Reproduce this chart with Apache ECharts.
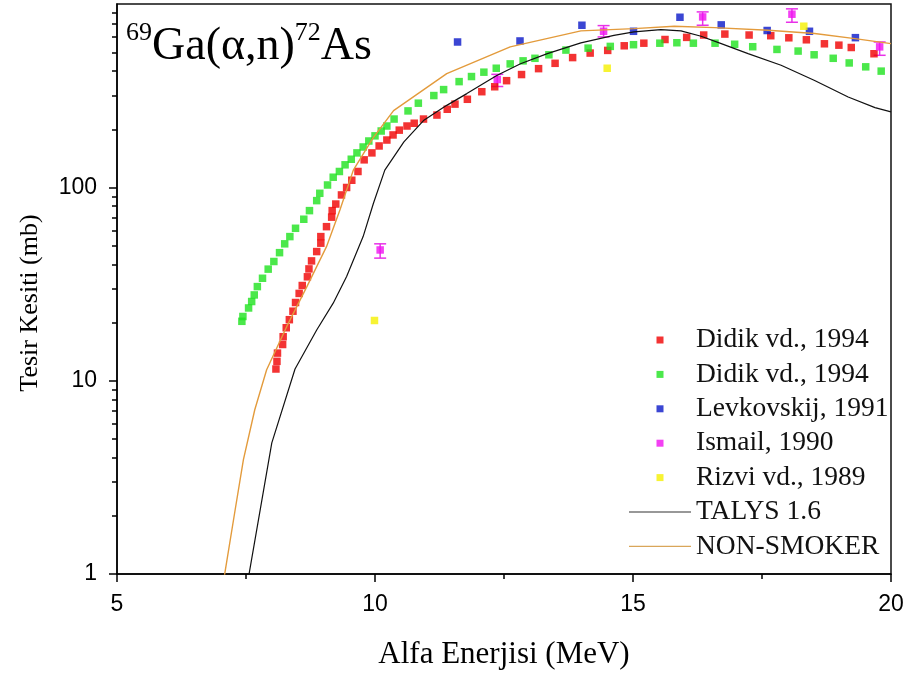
<!DOCTYPE html>
<html>
<head>
<meta charset="utf-8">
<script src="https://cdn.jsdelivr.net/npm/echarts@6.0.0/dist/echarts.min.js"></script>
<style>
html,body{margin:0;padding:0;background:#fff;}
#chart{width:909px;height:675px;}
</style>
</head>
<body>
<div id="chart"></div>
<script>
// ---------- data ----------
const redE = [8.08, 8.10, 8.11, 8.21, 8.22, 8.28, 8.34, 8.41, 8.46, 8.53, 8.59, 8.69, 8.72, 8.77, 8.87, 8.95, 8.95, 9.06, 9.16, 9.17, 9.24, 9.35, 9.45, 9.55, 9.67, 9.79, 9.94, 10.08, 10.23, 10.35, 10.47, 10.62, 10.76, 10.94, 11.20, 11.40, 11.55, 11.79, 12.07, 12.32, 12.55, 12.84, 13.17, 13.49, 13.83, 14.17, 14.51, 14.83, 15.21, 15.62, 16.04, 16.37, 16.78, 17.25, 17.67, 18.02, 18.36, 18.71, 18.99, 19.23, 19.67];
const redSigma = [11.5, 12.6, 13.9, 15.4, 16.9, 18.8, 20.7, 22.9, 25.4, 28.3, 31.1, 34.5, 37.9, 41.7, 46.6, 51.5, 55.7, 62.7, 70.2, 75.9, 82.1, 91.5, 100, 109, 121, 139, 151, 164, 176, 187, 198, 208, 215, 226, 237, 254, 270, 286, 313, 332, 357, 384, 412, 439, 470, 496, 512, 541, 558, 583, 598, 615, 622, 615, 610, 595, 581, 554, 545, 530, 492];

const greenE = [7.42, 7.44, 7.55, 7.61, 7.66, 7.72, 7.82, 7.93, 8.04, 8.15, 8.25, 8.35, 8.46, 8.62, 8.73, 8.87, 8.93, 9.08, 9.19, 9.31, 9.42, 9.54, 9.65, 9.77, 9.88, 10.00, 10.12, 10.23, 10.37, 10.64, 10.84, 11.14, 11.33, 11.63, 11.87, 12.11, 12.35, 12.62, 12.87, 13.10, 13.37, 13.70, 14.13, 14.56, 15.01, 15.52, 15.85, 16.17, 16.59, 16.97, 17.32, 17.79, 18.20, 18.51, 18.88, 19.19, 19.51, 19.81];
const greenSigma = [20.3, 21.5, 23.8, 25.7, 27.8, 30.7, 33.9, 37.8, 41.4, 46.0, 51.1, 55.7, 61.5, 68.5, 75.9, 85.5, 93.3, 103, 113, 121, 131, 140, 151, 162, 174, 185, 196, 208, 226, 249, 273, 299, 321, 353, 375, 395, 414, 436, 452, 466, 486, 514, 526, 537, 548, 558, 561, 558, 558, 551, 535, 518, 508, 486, 466, 441, 421, 400];

const blueE = [11.60, 12.81, 14.01, 15.01, 15.91, 16.71, 17.60, 18.42, 19.31];
const blueSigma = [566, 573, 691, 643, 760, 694, 649, 643, 596];

const magentaE = [10.10, 12.37, 14.43, 16.35, 18.08, 19.78];
const magentaSigma = [47.5, 362, 643, 763, 788, 534];
const magentaLow = [43.1, 333, 601, 691, 716, 483];
const magentaHigh = [51.1, 385, 688, 810, 840, 566];

const yellowE = [9.99, 14.50, 18.31];
const yellowSigma = [20.5, 414, 683];

const talysE = [7.5, 8.0, 8.45, 8.87, 9.19, 9.45, 9.77, 9.97, 10.19, 10.56, 10.94, 11.39, 11.78, 12.36, 12.82, 13.34, 13.99, 14.63, 15.02, 15.54, 15.93, 16.32, 16.71, 17.23, 17.87, 18.52, 19.17, 19.69, 20.0];
const talysSigma = [0.81, 4.77, 11.5, 18.3, 25.2, 34.6, 55.7, 82.9, 123, 172, 222, 266, 306, 380, 437, 493, 560, 613, 638, 656, 646, 606, 555, 493, 429, 358, 294, 259, 246];

const nonSmokerE = [7.0, 7.09, 7.29, 7.45, 7.67, 7.90, 8.29, 8.68, 9.06, 9.32, 9.58, 9.96, 10.36, 11.39, 12.62, 13.99, 15.02, 15.80, 16.58, 17.62, 18.52, 19.30, 20.0];
const nonSmokerSigma = [0.71, 1.01, 2.15, 3.91, 7.08, 11.4, 19.1, 30.7, 49.4, 76.5, 123, 180, 250, 388, 534, 646, 664, 683, 672, 651, 626, 589, 555];

const legendKeys = ['didik1', 'didik2', 'levk', 'ismail', 'rizvi', 'talys', 'nonsmoker'];
const legendLabels = ['Didik vd., 1994', 'Didik vd., 1994', 'Levkovskij, 1991', 'Ismail, 1990', 'Rizvi vd., 1989', 'TALYS 1.6', 'NON-SMOKER'];
const legendKinds = ['point', 'point', 'point', 'point', 'point', 'line', 'line'];

const xTickValues = [5, 10, 15, 20];
const yMajorTicks = [1, 10, 100];
const yMinorTicks = [2, 3, 4, 5, 6, 7, 8, 9, 20, 30, 40, 50, 60, 70, 80, 90, 200, 300, 400, 500, 600, 700, 800];

// ---------- helpers ----------
const zip = (a, b) => a.map((v, i) => [v, b[i]]);
const SERIF = "'Liberation Serif', 'Times New Roman', serif";
const SANS = "'Liberation Sans', Arial, sans-serif";
// legend icons: a small square centred in a 62x8 box, or a thin line across it
const ICON_POINT = 'path://M0,0 M62,8 M27.5,0.5 L34.5,0.5 L34.5,7.5 L27.5,7.5 Z';
const ICON_LINE = 'path://M0,0 M62,8 M0,3.4 L62,3.4 L62,4.6 L0,4.6 Z';

const chart = echarts.init(document.getElementById('chart'), null, {renderer: 'canvas'});

function scatter(key, xs, ys, color) {
  return {
    name: key, type: 'scatter', symbol: 'rect', symbolSize: 7.5,
    itemStyle: {color: color}, data: zip(xs, ys), z: 3
  };
}

const option = {
  animation: false,
  backgroundColor: '#fff',
  title: {
    text: '{s|69}{m|Ga(α,n)}{s|72}{m|As}',
    left: 121, top: 15,
    textStyle: {
      fontWeight: 'normal',
      rich: {
        s: {fontSize: 26, fontFamily: SERIF, fontWeight: 'normal', color: '#000', verticalAlign: 'top', lineHeight: 54},
        m: {fontSize: 46, fontFamily: SERIF, fontWeight: 'normal', color: '#000', lineHeight: 54}
      }
    }
  },
  grid: {left: 117, right: 18, top: 4, bottom: 100, show: true, borderColor: '#111', borderWidth: 1.5, backgroundColor: 'transparent'},
  legend: {
    orient: 'vertical', left: 629, top: 326, padding: 0,
    itemWidth: 62, itemHeight: 8, itemGap: 6.4,
    data: legendKeys.map((k, i) => ({name: k, icon: legendKinds[i] === 'point' ? ICON_POINT : ICON_LINE})),
    formatter: name => legendLabels[legendKeys.indexOf(name)],
    textStyle: {fontFamily: SERIF, fontSize: 27.5, color: '#111', lineHeight: 27},
    selectedMode: false
  },
  xAxis: {
    type: 'value', min: 5, max: 20, interval: 5,
    axisLine: {show: true, onZero: false, lineStyle: {color: '#000', width: 1.5}},
    axisTick: {show: true, inside: false, length: 8, lineStyle: {color: '#000', width: 1.5}},
    minorTick: {show: true, splitNumber: 2, length: 5, lineStyle: {color: '#000', width: 1.5}},
    axisLabel: {fontFamily: SANS, fontSize: 23, color: '#000', margin: 19,
      customValues: xTickValues},
    splitLine: {show: false},
    name: 'Alfa Enerjisi (MeV)', nameLocation: 'middle', nameGap: 65,
    nameTextStyle: {fontFamily: SERIF, fontSize: 31, color: '#000'}
  },
  yAxis: [{
    type: 'log', logBase: 10, min: 1, max: 890,
    axisLine: {show: true, lineStyle: {color: '#000', width: 1.5}},
    axisTick: {show: true, inside: false, length: 8, lineStyle: {color: '#000', width: 1.5}, customValues: yMajorTicks},
    axisLabel: {fontFamily: SANS, fontSize: 23, color: '#000', margin: 20, customValues: yMajorTicks},
    splitLine: {show: false},
    name: 'Tesir Kesiti (mb)', nameLocation: 'middle', nameGap: 74,
    nameTextStyle: {fontFamily: SERIF, fontSize: 26, color: '#000', padding: [0, 28, 0, 0]}
  }, {
    type: 'log', logBase: 10, min: 1, max: 890, position: 'left',
    axisLine: {show: false},
    axisTick: {show: true, inside: false, length: 5, lineStyle: {color: '#000', width: 1.5}, customValues: yMinorTicks},
    axisLabel: {show: false},
    splitLine: {show: false}
  }],
  series: [
    scatter('didik1', redE, redSigma, '#f00000'),
    scatter('didik2', greenE, greenSigma, '#1ee21e'),
    scatter('levk', blueE, blueSigma, '#0a18c8'),
    {
      name: 'ismail-err', type: 'custom', z: 2,
      data: magentaE.map((e, i) => [e, magentaLow[i], magentaHigh[i]]),
      encode: {x: 0, y: [1, 2]},
      renderItem: function (params, api) {
        const x = api.value(0);
        const lo = api.coord([x, api.value(1)]);
        const hi = api.coord([x, api.value(2)]);
        const w = 6;
        const st = {stroke: '#e830e8', lineWidth: 1.5};
        return {type: 'group', children: [
          {type: 'line', shape: {x1: lo[0], y1: lo[1], x2: hi[0], y2: hi[1]}, style: st},
          {type: 'line', shape: {x1: lo[0] - w, y1: lo[1], x2: lo[0] + w, y2: lo[1]}, style: st},
          {type: 'line', shape: {x1: hi[0] - w, y1: hi[1], x2: hi[0] + w, y2: hi[1]}, style: st}
        ]};
      }
    },
    scatter('ismail', magentaE, magentaSigma, '#f010f0'),
    scatter('rizvi', yellowE, yellowSigma, '#f5f000'),
    {
      name: 'talys', type: 'line', symbol: 'none', showSymbol: false, clip: true, z: 4,
      lineStyle: {color: '#111', width: 1.2}, itemStyle: {color: '#333'},
      data: zip(talysE, talysSigma)
    },
    {
      name: 'nonsmoker', type: 'line', symbol: 'none', showSymbol: false, clip: true, z: 4,
      lineStyle: {color: '#e39b3c', width: 1.4}, itemStyle: {color: '#d9a65a'},
      data: zip(nonSmokerE, nonSmokerSigma)
    }
  ]
};
chart.setOption(option);
</script>
</body>
</html>
